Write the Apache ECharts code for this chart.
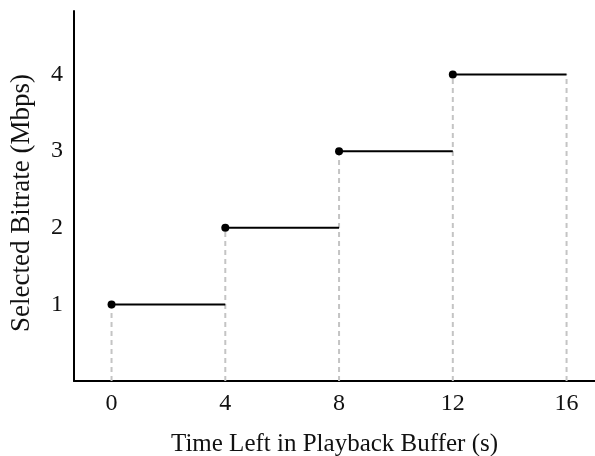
<!DOCTYPE html>
<html><head><meta charset="utf-8">
<script src="https://cdn.jsdelivr.net/npm/echarts@6/dist/echarts.min.js"></script>
<style>html,body{margin:0;padding:0;background:#fff}#c{width:595px;height:456px}</style>
</head><body><div id="c"></div>
<script>
const stepStart = [0, 4, 8, 12];
const stepEnd = [4, 8, 12, 16];
const bitrate = [1, 2, 3, 4];
const guideX = [0, 4, 8, 12, 16];
const guideTop = [1, 2, 3, 4, 4];
const xTicks = [0, 4, 8, 12, 16];
const yTicks = [1, 2, 3, 4];

const font = '"Liberation Serif", "DejaVu Serif", serif';
const series = [];
guideX.forEach((x, i) => {
  series.push({type: 'line', data: [[x, 0], [x, guideTop[i]]], showSymbol: false, silent: true,
    lineStyle: {color: '#c4c4c4', width: 2, type: [5, 4]}, z: 1});
});
stepStart.forEach((x, i) => {
  series.push({type: 'line', data: [[x, bitrate[i]], [stepEnd[i], bitrate[i]]], showSymbol: false,
    lineStyle: {color: '#000', width: 2}, z: 2});
});
series.push({type: 'scatter', data: stepStart.map((x, i) => [x, bitrate[i]]), symbolSize: 8,
  itemStyle: {color: '#000', opacity: 1}, z: 3});

const chart = echarts.init(document.getElementById('c'), null, {renderer: 'canvas'});
chart.setOption({
  animation: false,
  grid: {left: 74, right: 0, top: 11, bottom: 75, containLabel: false, outerBoundsMode: 'none'},
  xAxis: {type: 'value', min: -1.32, max: 17.0,
    name: 'Time Left in Playback Buffer (s)', nameLocation: 'middle', nameGap: 51,
    nameTextStyle: {fontFamily: font, fontSize: 25, color: '#111'},
    axisLine: {onZero: false, lineStyle: {color: '#000', width: 2}},
    axisTick: {show: false},
    splitLine: {show: false},
    axisLabel: {customValues: xTicks, fontFamily: font, fontSize: 24, color: '#111', margin: 11}},
  yAxis: {type: 'value', min: 0, max: 4.83,
    name: 'Selected Bitrate (Mbps)', nameLocation: 'middle', nameGap: 39,
    nameTextStyle: {fontFamily: font, fontSize: 27, color: '#111', padding: [0, 14, 0, 0]},
    axisLine: {show: true, onZero: false, lineStyle: {color: '#000', width: 2}},
    axisTick: {show: false},
    splitLine: {show: false},
    axisLabel: {customValues: yTicks, fontFamily: font, fontSize: 24, color: '#111', margin: 11}},
  series: series
});
</script></body></html>
